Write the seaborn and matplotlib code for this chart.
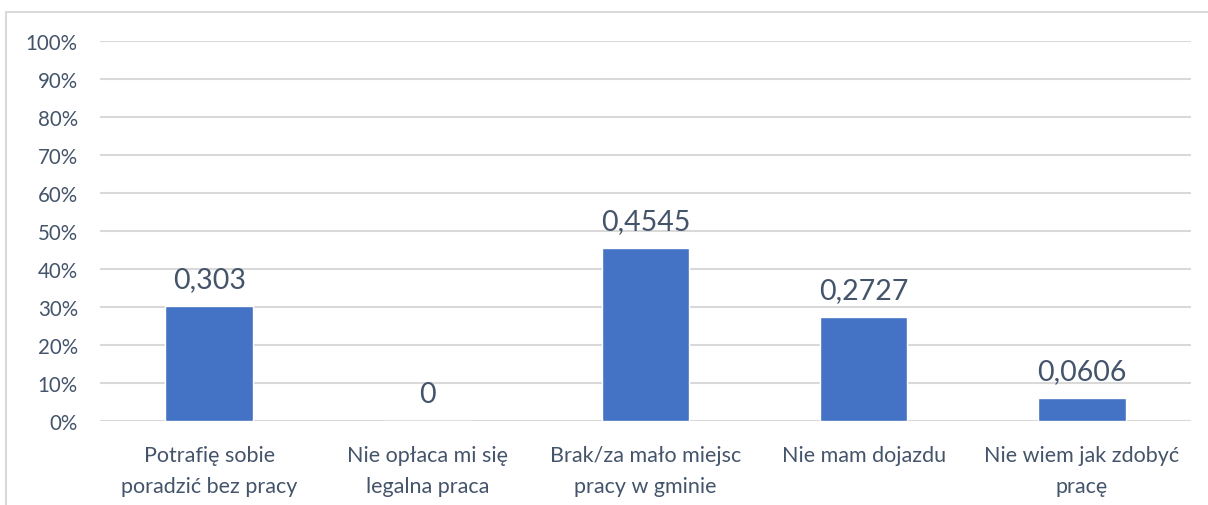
import matplotlib
matplotlib.use("Agg")
import matplotlib.pyplot as plt
import matplotlib.ticker as mticker
from matplotlib.patches import Rectangle
import seaborn as sns
import pandas as pd

CATEGORIES = ["Potrafię sobie\nporadzić bez pracy",
              "Nie opłaca mi się\nlegalna praca",
              "Brak/za mało miejsc\npracy w gminie",
              "Nie mam dojazdu",
              "Nie wiem jak zdobyć\npracę"]
VALUES = [0.303, 0, 0.4545, 0.2727, 0.0606]

BAR_COLOR = "#4472C4"
TEXT_COLOR = "#44546A"
GRID_COLOR = "#D9D9D9"

sns.set_style("white")
plt.rcParams["font.family"] = ["Lato", "DejaVu Sans"]

df = pd.DataFrame({"category": CATEGORIES, "value": VALUES})

fig = plt.figure(figsize=(12.08, 5.06), dpi=100)
ax = fig.add_axes([0.0828, 0.166, 0.9032, 0.751])

sns.barplot(data=df, x="category", y="value", color=BAR_COLOR,
            width=0.4, saturation=1, ax=ax)

# outer chart frame
fig.patches.append(Rectangle((6 / 1208, -0.1), 1.2, 1 - 13 / 506 + 0.1,
                             transform=fig.transFigure, fill=False,
                             edgecolor=GRID_COLOR, linewidth=1.5))

ax.set_ylim(0, 1)
ax.set_xlim(-0.5, len(CATEGORIES) - 0.5)
ax.yaxis.set_major_locator(mticker.MultipleLocator(0.1))
ax.yaxis.set_major_formatter(mticker.FuncFormatter(lambda v, p: f"{v * 100:.0f}%"))
ax.grid(axis="y", color=GRID_COLOR, linewidth=1.5)
ax.set_axisbelow(True)
for s in ax.spines.values():
    s.set_visible(False)

ax.tick_params(axis="y", length=0, pad=16, labelsize=14.8, labelcolor=TEXT_COLOR)
ax.tick_params(axis="x", length=0, pad=17.5, labelsize=15.5, labelcolor=TEXT_COLOR)
for lbl in ax.get_xticklabels():
    lbl.set_linespacing(1.65)
ax.set_xlabel("")
ax.set_ylabel("")

labels = [f"{v:g}".replace(".", ",") for v in VALUES]
ax.bar_label(ax.containers[0], labels=labels, padding=10,
             fontsize=20.5, color=TEXT_COLOR)

fig.savefig("out.png", dpi=100)
